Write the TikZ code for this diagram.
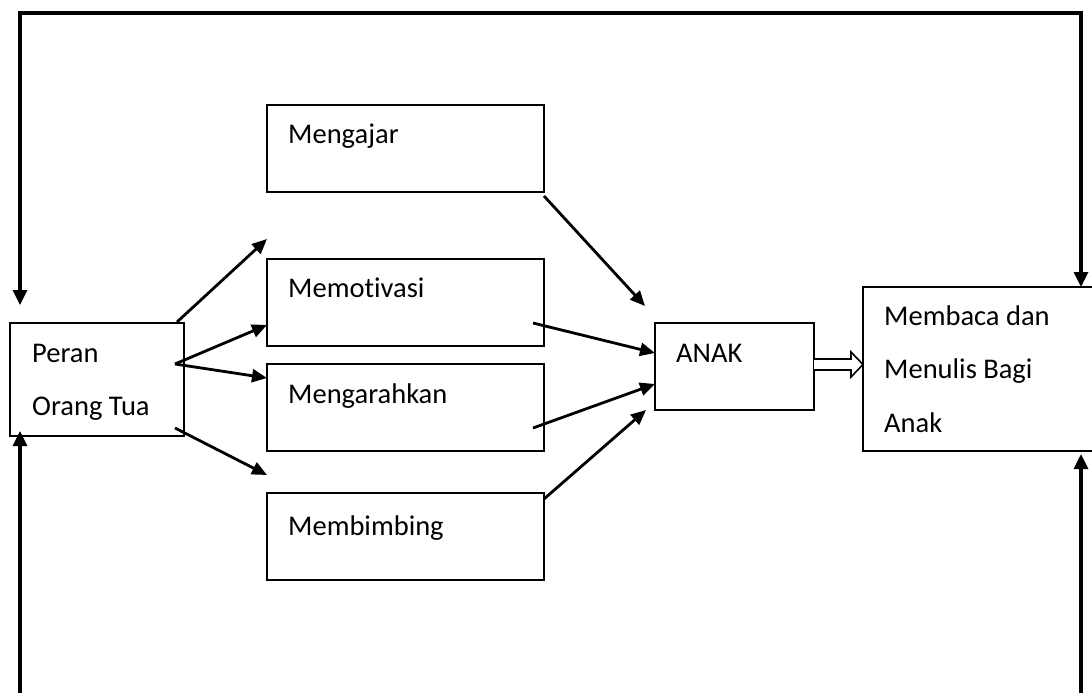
\documentclass[tikz,border=0pt]{standalone}
\usepackage{fontspec}
\setmainfont[Ligatures=NoCommon]{Carlito}
\usetikzlibrary{arrows.meta,calc}
\begin{document}
\begin{tikzpicture}[x=1pt,y=-1pt,
  box/.style={draw,line width=1.8pt,anchor=north west,inner sep=0pt,outer sep=0pt},
  txt/.style={inner sep=0pt,anchor=base west,font=\fontsize{28.5}{32}\selectfont},
  arr/.style={line width=2.8pt,-{Triangle[length=15pt,width=13pt]}},
  loop/.style={line width=3.2pt}]
\useasboundingbox (0,0) rectangle (1092,693);
\clip (0,0) rectangle (1092,693);
% boxes
\node[box,minimum width=174pt,minimum height=113pt] (peran) at (10,323) {};
\node[box,minimum width=277pt,minimum height=87pt] (mengajar) at (267,105) {};
\node[box,minimum width=277pt,minimum height=87pt] (memotivasi) at (267,259) {};
\node[box,minimum width=277pt,minimum height=87pt] (mengarahkan) at (267,364) {};
\node[box,minimum width=277pt,minimum height=87pt] (membimbing) at (267,493) {};
\node[box,minimum width=159pt,minimum height=87pt] (anak) at (655,323) {};
\node[box,minimum width=240pt,minimum height=164pt] (membaca) at (863,287) {};
% texts
\node[txt] (t1) at ($(peran.north west)+(22,39)$) {Peran};
\node[txt] (t2) at ($(peran.north west)+(22,92)$) {Orang Tua};
\node[txt] (t3) at ($(mengajar.north west)+(21,38)$) {Mengajar};
\node[txt] (t4) at ($(memotivasi.north west)+(21,38)$) {Memotivasi};
\node[txt] (t5) at ($(mengarahkan.north west)+(21,39)$) {Mengarahkan};
\node[txt] (t6) at ($(membimbing.north west)+(21,42)$) {Membimbing};
\node[txt] (t7) at ($(anak.north west)+(21,39)$) {ANAK};
\node[txt] (t8) at ($(membaca.north west)+(21,38)$) {Membaca dan};
\node[txt] (t9) at ($(membaca.north west)+(21,91)$) {Menulis Bagi};
\node[txt] (t10) at ($(membaca.north west)+(21,145)$) {Anak};
% arrows from Peran
\draw[arr] ($(peran.north east)+(-7,-1)$) -- ($(memotivasi.north west)+(0,-20)$);
\draw[arr] ($(peran.north east)+(-9,41)$) -- ($(memotivasi.west)+(0,22.5)$);
\draw[arr] ($(peran.north east)+(-9,41)$) -- ($(mengarahkan.north west)+(0,14)$);
\draw[arr] ($(peran.south east)+(-9,-8)$) -- ($(membimbing.north west)+(0,-18)$);
% arrows into ANAK
\draw[arr] ($(mengajar.south east)+(0,4)$) -- ($(anak.north west)+(-10,-17)$);
\draw[arr] ($(memotivasi.south east)+(-11,-23)$) -- ($(anak.west)+(0,-13.5)$);
\draw[arr] ($(mengarahkan.south east)+(-11,-23)$) -- ($(anak.west)+(0,17.5)$);
\draw[arr] ($(membimbing.north east)+(0,6)$) -- ($(anak.south west)+(-9,0)$);
% hollow double arrow ANAK -> Membaca
\draw[line width=1.6pt,fill=white,line join=miter]
  ($(anak.east)+(0,-7.5)$) -- ($(membaca.west |- anak.east)+(-12,-7.5)$)
  -- ($(membaca.west |- anak.east)+(-12,-14.5)$)
  -- ($(membaca.west |- anak.east)+(0,-2)$)
  -- ($(membaca.west |- anak.east)+(-12,10.5)$)
  -- ($(membaca.west |- anak.east)+(-12,3.5)$)
  -- ($(anak.east)+(0,3.5)$);
% feedback loop lines
\coordinate (tl) at (20,13);
\coordinate (tr) at (1081,13);
\coordinate (bl) at (20,700);
\coordinate (br) at (1081,700);
\draw[loop,-{Triangle[length=15pt,width=14pt]}] (tr) -- (tl) -- ($(peran.north west)+(10,-18)$);
\draw[loop,-{Triangle[length=15pt,width=14pt]}] (tl) -- (tr) -- (tr |- membaca.north);
\draw[loop,-{Triangle[length=15pt,width=14pt]}] (bl) -- ($(peran.south west)+(10,-5)$);
\draw[loop,-{Triangle[length=15pt,width=14pt]}] (br) -- ($(tr |- membaca.south)+(0,3)$);
\end{tikzpicture}
\end{document}
